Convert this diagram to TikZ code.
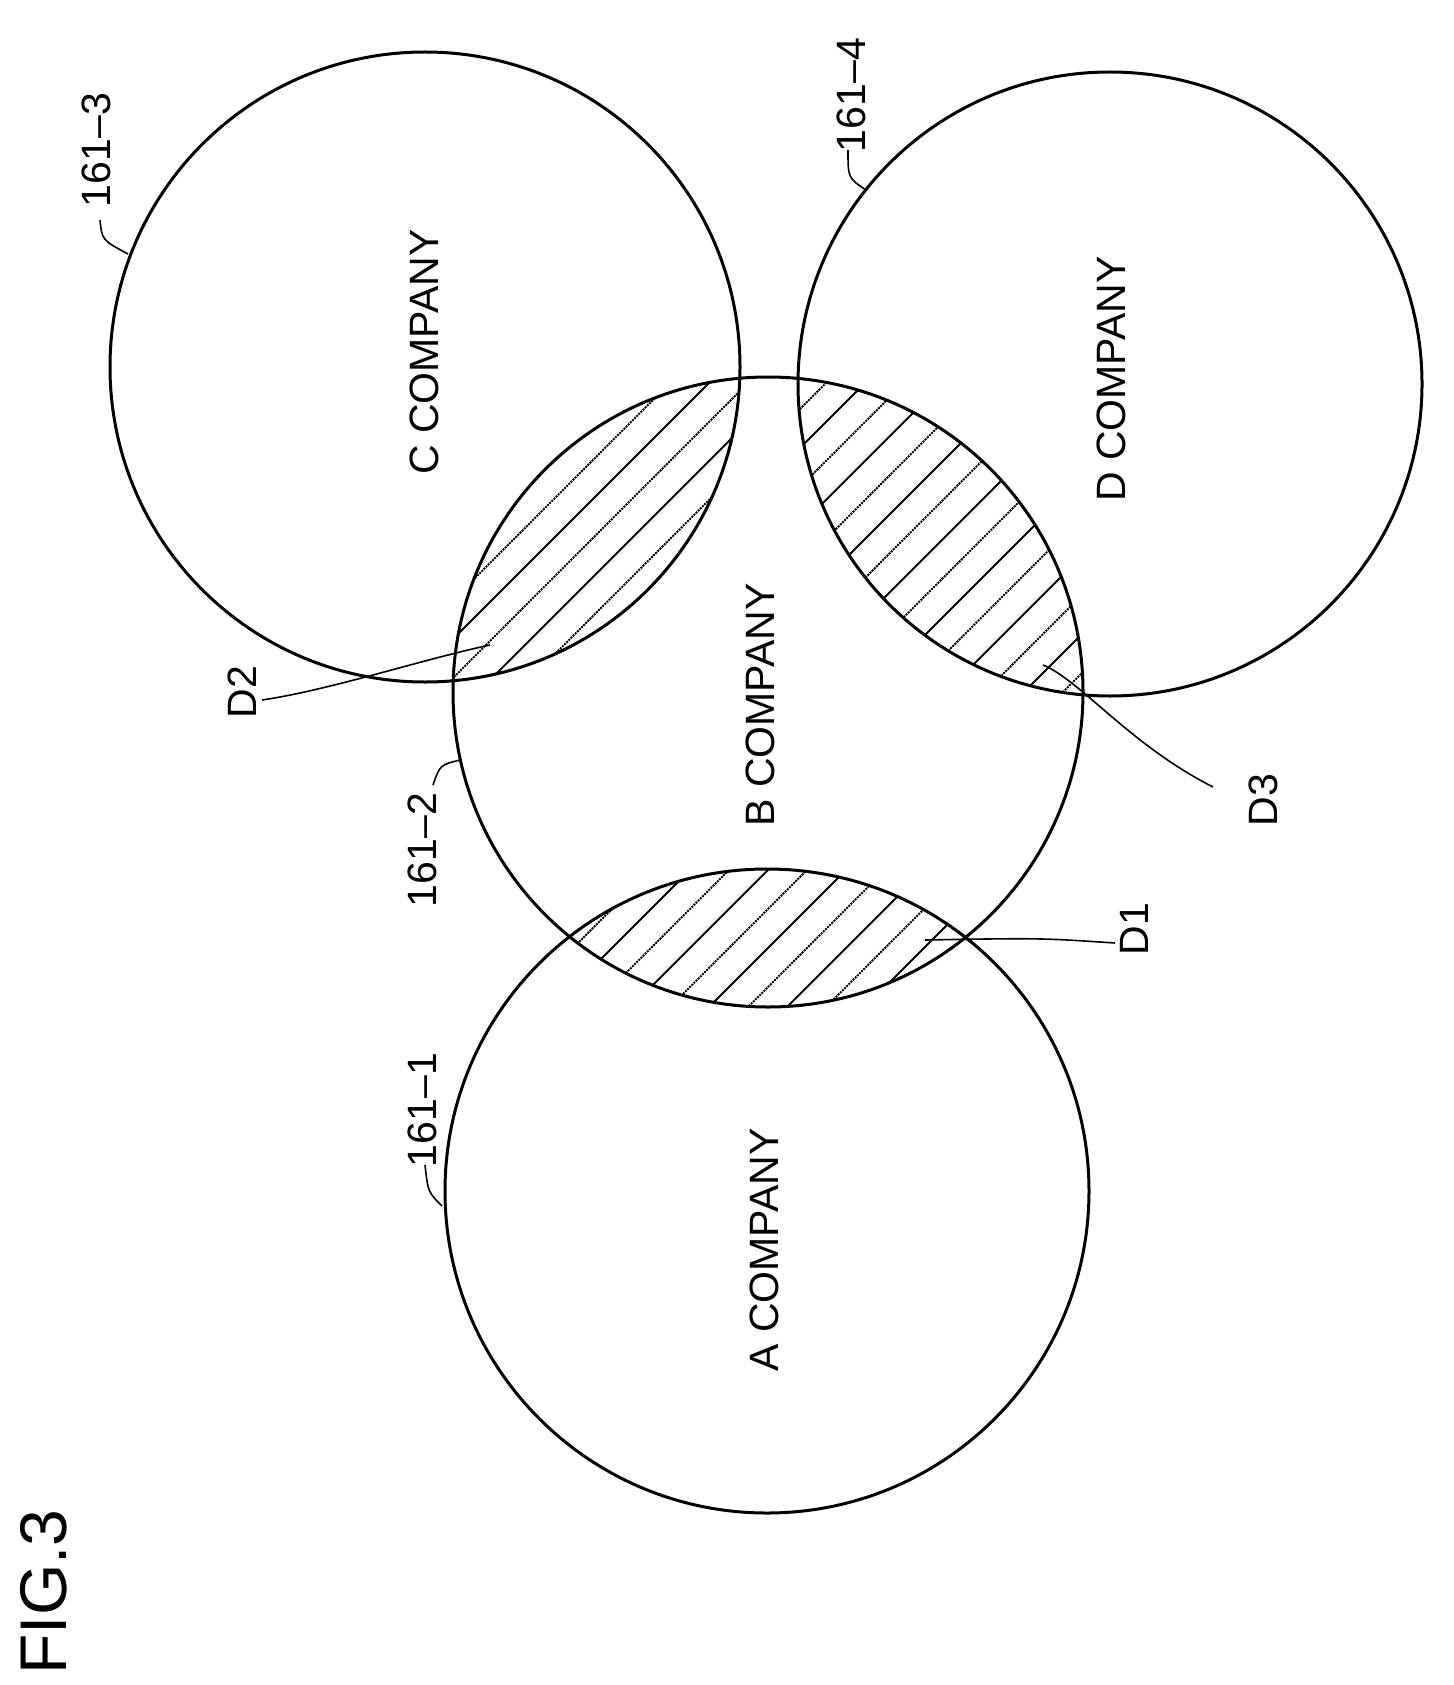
\documentclass[tikz,border=0pt]{standalone}
\usepackage{fontspec}
\setmainfont{Liberation Sans}
\begin{document}
\begin{tikzpicture}[x=1pt,y=-1pt,
  circ/.style={draw,line width=3pt},
  lbl/.style={rotate=90,font=\fontsize{41}{41}\selectfont},
  lead/.style={draw,line width=1.6pt},
  hatchsolid/.style={line width=2pt},
  hatchdot/.style={line width=2pt,densely dotted}]
\useasboundingbox (0,0) rectangle (1453,1685);
\coordinate (cC) at (425,367);
\coordinate (cD) at (1110,384);
\coordinate (cB) at (768,692);
\coordinate (cA) at (767,1191);
\newcommand{\hatchlines}{%
  \foreach \k in {0,...,88}{
    \pgfmathtruncatemacro{\m}{mod(\k,2)}
    \ifnum\m=0
      \draw[hatchsolid] (0,{\k*39}) -- ++(1700,-1700);
    \else
      \draw[hatchdot] (0,{\k*39}) -- ++(1700,-1700);
    \fi}}
\begin{scope}
  \clip (cB) circle (315);
  \clip (cC) circle (315);
  \hatchlines
\end{scope}
\begin{scope}
  \clip (cB) circle (315);
  \clip (cD) circle (312);
  \hatchlines
\end{scope}
\begin{scope}
  \clip (cB) circle (315);
  \clip (cA) circle (322);
  \hatchlines
\end{scope}
\node[circ,circle,minimum size=630pt,inner sep=0pt] (C) at (cC) {};
\node[circ,circle,minimum size=624pt,inner sep=0pt] (D) at (cD) {};
\node[circ,circle,minimum size=630pt,inner sep=0pt] (B) at (cB) {};
\node[circ,circle,minimum size=644pt,inner sep=0pt] (A) at (cA) {};
\node[lbl] (tC) at (424,352) {C COMPANY};
\node[lbl] (tD) at (1111,379) {D COMPANY};
\node[lbl] (tB) at (760,705) {B COMPANY};
\node[lbl] (tA) at (764,1250) {A COMPANY};
\node[lbl] (l3) at (96,150) {161--3};
\node[lbl] (l4) at (851,95) {161--4};
\node[lbl] (l2) at (422,850) {161--2};
\node[lbl] (l1) at (422,1110) {161--1};
\node[lbl] (d2) at (242,692) {D2};
\node[lbl] (d3) at (1263,800) {D3};
\node[lbl] (d1) at (1134,929) {D1};
\node[rotate=90,font=\fontsize{66}{66}\selectfont] (fig) at (44,1592) {FIG.3};
\coordinate (p3) at (128,254);
\coordinate (p4) at (866,190);
\coordinate (p2) at (460,760);
\coordinate (p1) at (442,1206);
\coordinate (q2) at (490,645);
\coordinate (q3) at (1043,665);
\coordinate (q1) at (925,940);
\draw[lead] (100,220) .. controls (102,240) .. (p3);
\draw[lead] (848,150) .. controls (848,178) .. (p4);
\draw[lead] (433,785) .. controls (440,765) .. (p2);
\draw[lead] (425,1165) .. controls (428,1192) .. (p1);
\draw[lead] (262,700) .. controls (330,690) and (420,660) .. (q2);
\draw[lead] (1213,787) .. controls (1130,745) and (1080,680) .. (q3);
\draw[lead] (1115,943) .. controls (1040,938) .. (q1);
\end{tikzpicture}
\end{document}
